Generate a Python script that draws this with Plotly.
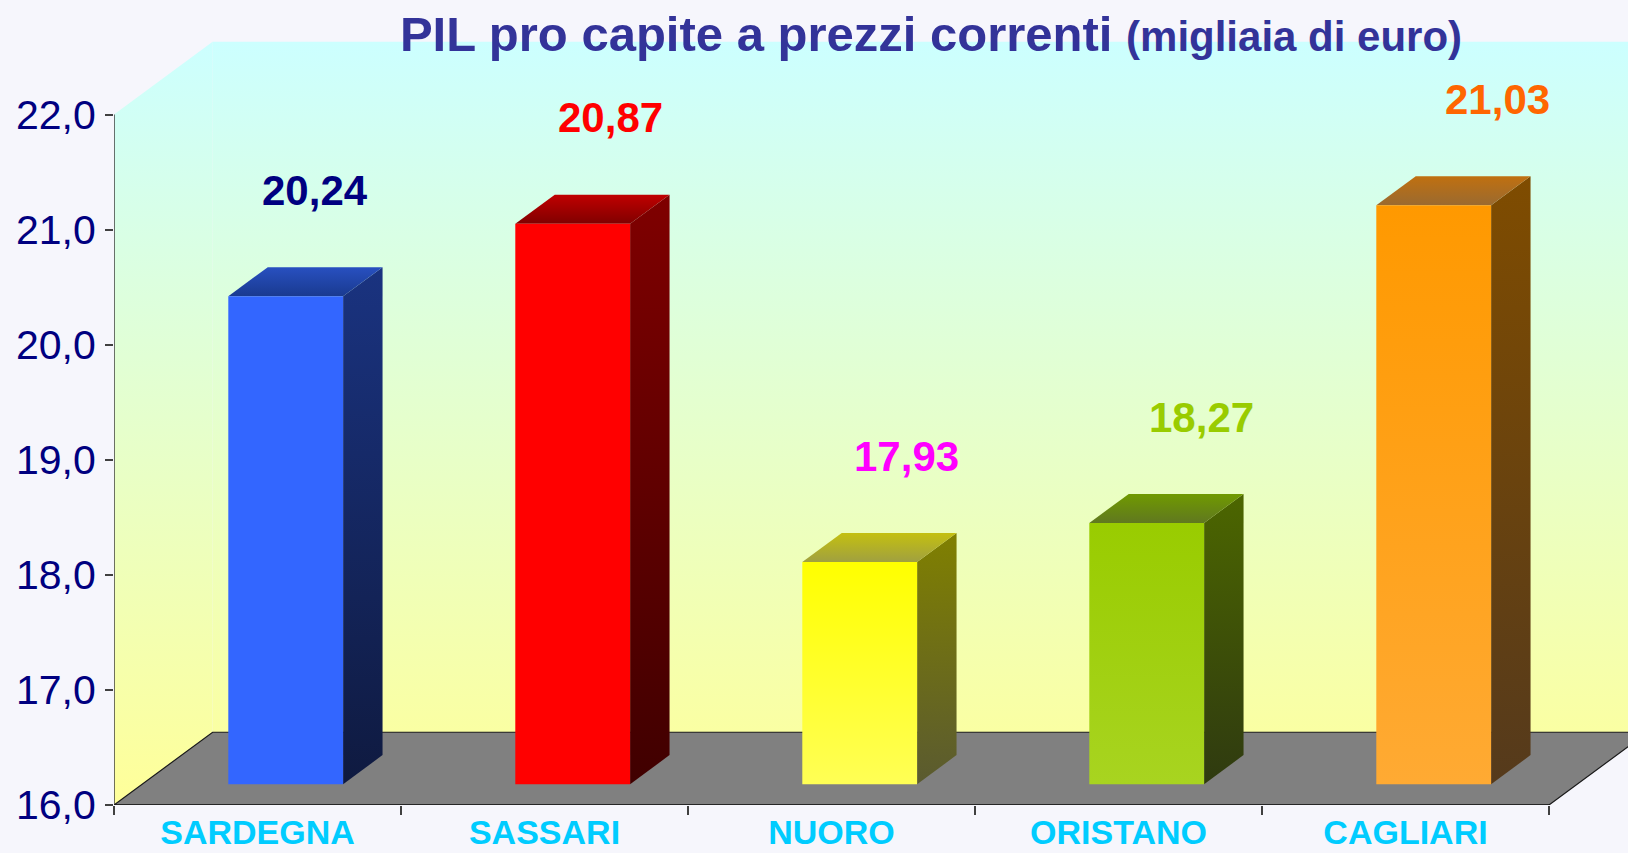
import plotly.graph_objects as go

# ---------------- data ----------------
categories = ["SARDEGNA", "SASSARI", "NUORO", "ORISTANO", "CAGLIARI"]
values = [20.24, 20.87, 17.93, 18.27, 21.03]
y_ticks = [16, 17, 18, 19, 20, 21, 22]

# colours per bar: (bottom, top) for front / side, (front edge, back edge) for top
front_colors = [("#3366FF", "#3366FF"), ("#FF0000", "#FF0000"), ("#FFFF55", "#FFFF00"),
                ("#A8D420", "#99CC00"), ("#FFAA33", "#FF9900")]
side_colors = [("#0F1A40", "#1A3380"), ("#400000", "#7F0000"), ("#5A5A30", "#808000"),
               ("#2F3A10", "#4C6600"), ("#553A1C", "#7F4C00")]
top_colors = [("#1A3A90", "#2850C0"), ("#800000", "#C00000"), ("#A0A040", "#C4C010"),
              ("#607820", "#709A00"), ("#9A6A30", "#C07010")]
label_colors = ["#000080", "#FF0000", "#FF00FF", "#99CC00", "#FF6600"]

# ---------------- geometry of the pseudo-3D frame ----------------
FIG_W, FIG_H = 1628, 853
M_L, M_B = 114, 48
PX_X = 287.0        # pixels per category unit
PX_Y = 115.08       # pixels per value unit
DX, DY = 0.3436, 0.632          # depth vector (data units)
BAR_FRONT, BAR_DEPTH, BAR_W = 0.286, 0.4, 0.4
LABEL_GAP = 1.1                 # value units above the bar value
LABEL_DX, LABEL_SPREAD = 0.2, 0.03   # slight perspective spread of the value labels

Y0, Y1 = y_ticks[0], y_ticks[-1]
N = len(categories)
x_max = (FIG_W - M_L) / PX_X
y_max = Y0 + (FIG_H - M_B) / PX_Y

fig = go.Figure()


def poly(xs, ys, c_bottom, c_top, line=None, start=None, stop=None):
    grad = dict(type="vertical", colorscale=[[0, c_bottom], [1, c_top]])
    if start is not None:
        grad["start"] = start
        grad["stop"] = stop
    kw = dict(x=list(xs) + [xs[0]], y=list(ys) + [ys[0]], fill="toself",
              fillgradient=grad, hoverinfo="skip", showlegend=False)
    if line is None:
        kw["mode"] = "none"
    else:
        kw["mode"] = "lines"
        kw["line"] = line
    fig.add_trace(go.Scatter(**kw))


WALL_BOTTOM, WALL_TOP = "#FFFF99", "#CCFFFF"
# left wall
poly([0, DX, DX, 0], [Y0, Y0 + DY, Y1 + DY, Y1], WALL_BOTTOM, WALL_TOP,
     start=Y0, stop=Y1 + DY)
# back wall
poly([DX, N + DX, N + DX, DX], [Y0 + DY, Y0 + DY, Y1 + DY, Y1 + DY], WALL_BOTTOM, WALL_TOP,
     start=Y0, stop=Y1 + DY)
# floor
poly([0, N, N + DX, DX], [Y0, Y0, Y0 + DY, Y0 + DY], "#808080", "#808080",
     line=dict(color="#1a1a1a", width=1.2))

# bars
for i, v in enumerate(values):
    c = i + 0.5
    xl = c - BAR_W / 2 + BAR_FRONT * DX
    xr = xl + BAR_W
    yb = Y0 + BAR_FRONT * DY
    yt = v + BAR_FRONT * DY
    sx, sy = BAR_DEPTH * DX, BAR_DEPTH * DY
    # side face
    poly([xr, xr + sx, xr + sx, xr], [yb, yb + sy, yt + sy, yt], *side_colors[i])
    # top face
    poly([xl, xr, xr + sx, xl + sx], [yt, yt, yt + sy, yt + sy], *top_colors[i])
    # front face
    poly([xl, xr, xr, xl], [yb, yb, yt, yt], *front_colors[i])
    # value label
    fig.add_annotation(x=c + LABEL_DX + LABEL_SPREAD * i, y=v + LABEL_GAP,
                       text="<b>" + f"{v:.2f}".replace(".", ",") + "</b>",
                       showarrow=False, xanchor="center", yanchor="middle",
                       font=dict(family="Liberation Sans, Arial", size=42,
                                 color=label_colors[i]))

# axis lines
fig.add_trace(go.Scatter(x=[0, 0], y=[Y0, Y1], mode="lines",
                         line=dict(color="#404040", width=1.5),
                         hoverinfo="skip", showlegend=False))
fig.add_trace(go.Scatter(x=[0, N], y=[Y0, Y0], mode="lines",
                         line=dict(color="#1a1a1a", width=1.5),
                         hoverinfo="skip", showlegend=False))

BG = "#F6F6FC"
fig.update_layout(
    width=FIG_W, height=FIG_H,
    margin=dict(l=M_L, r=0, t=0, b=M_B, autoexpand=False),
    paper_bgcolor=BG, plot_bgcolor=BG,
    separators=",.",
    showlegend=False,
    title=dict(
        text="<b>PIL pro capite a prezzi correnti</b> "
             "<b><span style='font-size:42px'>(migliaia di euro)</span></b>",
        x=931 / FIG_W, xanchor="center", y=1 - 34 / FIG_H, yanchor="middle",
        font=dict(family="Liberation Sans, Arial", size=49, color="#333399"),
    ),
    xaxis=dict(
        range=[0, x_max], showgrid=False, zeroline=False, showline=False,
        automargin=False,
        tickmode="array", tickvals=[i + 0.5 for i in range(N)], ticktext=categories,
        ticks="", ticklabelstandoff=4,
        tickfont=dict(family="Liberation Sans, Arial", size=34, color="#00CCFF",
                      weight="bold"),
        minor=dict(tickmode="array", tickvals=list(range(N + 1)), ticks="outside",
                   ticklen=9, tickwidth=1.5, tickcolor="#404040", showgrid=False),
        fixedrange=True,
    ),
    yaxis=dict(
        range=[Y0, y_max], showgrid=False, zeroline=False, showline=False,
        automargin=False,
        tickmode="array", tickvals=y_ticks, tickformat=".1f",
        ticks="outside", ticklen=8, tickwidth=1.5, tickcolor="#404040",
        ticklabelstandoff=1,
        tickfont=dict(family="Liberation Sans, Arial", size=41, color="#000080"),
        fixedrange=True,
    ),
)

fig.write_html("out.html")
